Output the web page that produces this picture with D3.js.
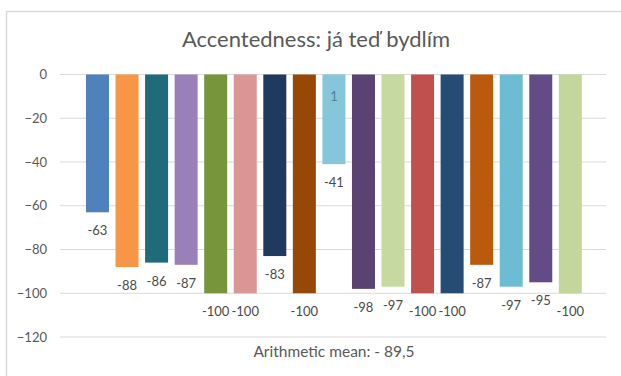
<!DOCTYPE html>
<html>
<head>
<meta charset="utf-8">
<script src="https://cdn.jsdelivr.net/npm/d3@7/dist/d3.min.js"></script>
<style>
  html, body { margin: 0; padding: 0; background: #fff; }
  svg { display: block; font-family: Lato, "Open Sans", sans-serif; }
</style>
</head>
<body>
<svg id="chart" width="621" height="376"></svg>
<script>
// Accentedness scores per speaker
const speakers = ["1","2","3","4","5","6","7","8","9","10","11","12","13","14","15","16","17"];
const scores = [-63, -88, -86, -87, -100, -100, -83, -100, -41, -98, -97, -100, -100, -87, -97, -95, -100];
const barColors = ["#4F81BD","#F79646","#1F6B7A","#9A80B8","#77963C","#D99694","#1F3A5C","#974806",
                   "#85C6DA","#5A4273","#C5D9A0","#C0504D","#264B75","#BB5A0C","#6CBDD4","#634C85","#C3D69B"];
const yTicks = [0, -20, -40, -60, -80, -100, -120];
const extraNotes = [{ speaker: "9", value: -10, text: "1" }];
const titleText = "Accentedness: já teď bydlím";
const footnote = "Arithmetic mean: - 89,5";

const svg = d3.select("#chart");

// chart frame (extends past the window on the right and bottom)
svg.append("rect")
  .attr("x", 6.5).attr("y", 11.5)
  .attr("width", 640).attr("height", 400)
  .attr("fill", "#fff").attr("stroke", "#d9d9d9").attr("stroke-width", 1.5);

const y = d3.scaleLinear().domain([-120, 0]).range([337, 74.5]);
const x = d3.scaleBand().domain(speakers).range([82.7, 585.1]).paddingInner(0.222).paddingOuter(0.111);
const gridX0 = 60, gridX1 = 606;

// gridlines
svg.append("g").selectAll("line").data(yTicks).join("line")
  .attr("x1", gridX0).attr("x2", gridX1)
  .attr("y1", d => y(d)).attr("y2", d => y(d))
  .attr("stroke", "#d9d9d9").attr("stroke-width", 1);

// y axis tick labels
const yAxis = d3.axisLeft(y).tickValues(yTicks).tickSize(0).tickPadding(0).tickFormat(d3.format("d"));
const gy = svg.append("g").attr("transform", "translate(47,0)").call(yAxis);
gy.select(".domain").remove();
gy.selectAll("text")
  .attr("fill", "#595959").attr("font-size", 13)
  .attr("font-family", "Lato, 'Open Sans', sans-serif");

// bars
svg.append("g").selectAll("rect").data(scores).join("rect")
  .attr("x", (d, i) => x(speakers[i]))
  .attr("width", x.bandwidth())
  .attr("y", y(0))
  .attr("height", d => y(d) - y(0))
  .attr("fill", (d, i) => barColors[i]);

// value labels below bar ends
svg.append("g").selectAll("text").data(scores).join("text")
  .attr("x", (d, i) => x(speakers[i]) + x.bandwidth() / 2)
  .attr("y", d => y(d) + 18)
  .attr("text-anchor", "middle").attr("dominant-baseline", "central")
  .attr("font-size", 13).attr("fill", "#4a4a4a")
  .text(d => d);

// additional note inside a bar
svg.append("g").selectAll("text").data(extraNotes).join("text")
  .attr("x", d => x(d.speaker) + x.bandwidth() / 2)
  .attr("y", d => y(d.value))
  .attr("text-anchor", "middle").attr("dominant-baseline", "central")
  .attr("font-size", 13).attr("fill", "#5a7f8c")
  .text(d => d.text);

// title
svg.append("text")
  .attr("x", 316).attr("y", 47)
  .attr("text-anchor", "middle")
  .attr("font-size", 22).attr("fill", "#595959")
  .text(titleText);

// mean note
svg.append("text")
  .attr("x", 334).attr("y", 351)
  .attr("text-anchor", "middle").attr("dominant-baseline", "central")
  .attr("font-size", 15.5).attr("fill", "#595959")
  .text(footnote);
</script>
</body>
</html>
